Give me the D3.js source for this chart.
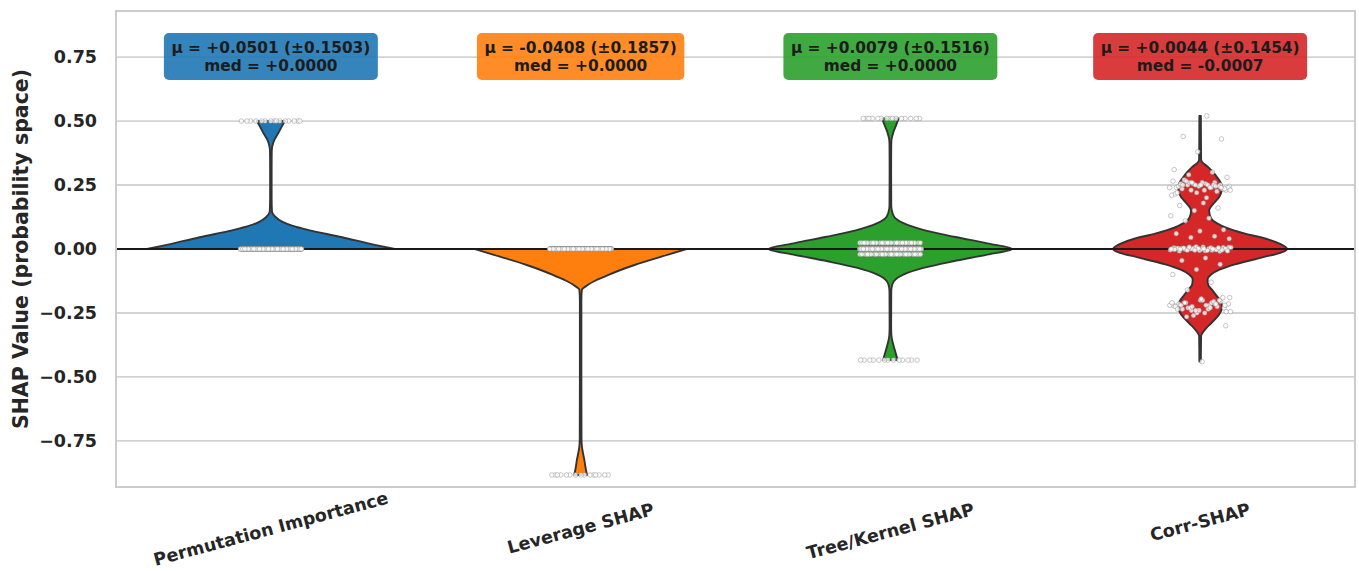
<!DOCTYPE html>
<html>
<head>
<meta charset="utf-8">
<script src="https://cdn.jsdelivr.net/npm/d3@7"></script>
<style>
  html, body { margin: 0; padding: 0; background: #ffffff; }
  svg { display: block; font-family: "DejaVu Sans", sans-serif; }
</style>
</head>
<body>
<svg id="chart" width="1359" height="571"></svg>
<script>
// Attribution methods compared on the x axis
const categories = ["Permutation Importance", "Leverage SHAP", "Tree/Kernel SHAP", "Corr-SHAP"];
const colors = ["#1f77b4", "#ff7f0e", "#2ca02c", "#d62728"];

// Summary statistics shown in the boxes above each violin
const means = [0.0501, -0.0408, 0.0079, 0.0044];
const stds = [0.1503, 0.1857, 0.1516, 0.1454];
const medians = [0.0000, 0.0000, 0.0000, -0.0007];

const yTicks = [-0.75, -0.5, -0.25, 0, 0.25, 0.5, 0.75];

// Violin outlines: [SHAP value, relative density]
const permDensity = [[0, 1.0], [0.016, 0.84], [0.046, 0.575], [0.074, 0.305], [0.09, 0.178], [0.107, 0.09],
  [0.126, 0.035], [0.146, 0.009], [0.2, 0.006], [0.3, 0.006], [0.38, 0.007], [0.4, 0.011], [0.43, 0.032],
  [0.453, 0.06], [0.48, 0.09], [0.5, 0.113]];
const levDensity = [[0, 0.855], [-0.023, 0.70], [-0.0625, 0.435], [-0.085, 0.306], [-0.108, 0.194],
  [-0.125, 0.113], [-0.14, 0.059], [-0.16, 0.01], [-0.2, 0.006], [-0.5, 0.006], [-0.74, 0.007],
  [-0.77, 0.01], [-0.8, 0.02], [-0.824, 0.03], [-0.855, 0.04], [-0.883, 0.052]];
const treeDensity = [[0.51, 0.067], [0.486, 0.048], [0.453, 0.022], [0.43, 0.01], [0.41, 0.007], [0.3, 0.006],
  [0.17, 0.007], [0.155, 0.01], [0.126, 0.03], [0.1, 0.11], [0.074, 0.272], [0.048, 0.514], [0.022, 0.782],
  [0, 0.984], [-0.022, 0.782], [-0.048, 0.508], [-0.074, 0.266], [-0.1, 0.105], [-0.126, 0.028],
  [-0.15, 0.01], [-0.17, 0.007], [-0.3, 0.006], [-0.335, 0.008], [-0.35, 0.012], [-0.38, 0.027],
  [-0.405, 0.042], [-0.434, 0.059]];
const corrDensity = [[0.52, 0.006], [0.35, 0.008], [0.34, 0.016], [0.32, 0.065], [0.3, 0.105], [0.28, 0.137],
  [0.26, 0.165], [0.24, 0.178], [0.22, 0.17], [0.2, 0.15], [0.18, 0.113], [0.16, 0.08], [0.15, 0.073],
  [0.13, 0.08], [0.11, 0.105], [0.1, 0.137], [0.085, 0.2], [0.074, 0.266], [0.06, 0.363], [0.04, 0.532],
  [0.02, 0.645], [0, 0.702], [-0.02, 0.613], [-0.03, 0.524], [-0.04, 0.444], [-0.06, 0.282], [-0.08, 0.161],
  [-0.1, 0.089], [-0.12, 0.06], [-0.14, 0.065], [-0.16, 0.097], [-0.18, 0.129], [-0.2, 0.161],
  [-0.225, 0.178], [-0.25, 0.161], [-0.27, 0.129], [-0.29, 0.089], [-0.31, 0.048], [-0.33, 0.016],
  [-0.34, 0.008], [-0.44, 0.006]];
const densities = [permDensity, levDensity, treeDensity, corrDensity];

// Individual observations (value, number of samples at that value)
const permPointValues = [0, 0.5];
const permPointCounts = [135, 15];
const levPointValues = [0, -0.883];
const levPointCounts = [310, 15];
const treePointValues = [0.51, 0.024, 0, -0.021, -0.434];
const treePointCounts = [15, 30, 200, 28, 13];
const corrPoints = [
  0.25, 0.24, 0.26, 0.23, 0.245, 0.255, 0.235, 0.25, 0.22, 0.265, 0.24, 0.25, 0.23, 0.26, 0.245, 0.225,
  0.255, 0.24, 0.25, 0.27, 0.235, 0.245, 0.215, 0.25, 0.26, 0.24, 0.23, 0.255, 0.245, 0.25, 0.21, 0.24,
  0.265, 0.235, 0.25, 0.22, 0.245, 0.26, 0.23, 0.2, 0.25, 0.24,
  0, 0.005, -0.005, 0.002, -0.003, 0.008, -0.008, 0, 0.004, -0.004, 0.001, -0.001, 0.006, -0.006, 0.003,
  -0.002, 0, 0.007, -0.007, 0.002, -0.009, 0.009, 0, 0.005, -0.005, 0.001, -0.001, 0.003, -0.003, 0,
  0.006, -0.006, 0.004, -0.004, 0.002, -0.002, 0, 0.008, -0.008, 0.001, -0.001, 0.005, -0.005, 0,
  -0.22, -0.21, -0.23, -0.2, -0.225, -0.215, -0.24, -0.19, -0.22, -0.235, -0.205, -0.25, -0.22, -0.21,
  -0.23, -0.245, -0.2, -0.215, -0.225, -0.26, -0.22, -0.235, -0.21, -0.19, -0.24, -0.225, -0.205, -0.23,
  -0.215, -0.25, -0.22, -0.2, -0.24, -0.21, -0.23, -0.265, -0.22, -0.195, -0.235, -0.215, -0.225, -0.245,
  0.52, 0.44, 0.43, 0.38, 0.31, 0.3, 0.29, 0.28, 0.18, 0.17, 0.16, 0.15, 0.13, 0.12, 0.11, 0.075, 0.07,
  0.06, 0.05, 0.045, 0.04, -0.035, -0.045, -0.06, -0.08, -0.1, -0.13, -0.16, -0.3, -0.44];

function expand(values, counts) {
  const out = [];
  values.forEach((v, i) => { for (let k = 0; k < counts[i]; k++) out.push(v); });
  return out;
}
const pointSets = [
  expand(permPointValues, permPointCounts),
  expand(levPointValues, levPointCounts),
  expand(treePointValues, treePointCounts),
  corrPoints
];

const width = 1359, height = 571;
const svg = d3.select("#chart");
const plot = { left: 116, right: 1355, top: 11, bottom: 487 };

const x = d3.scaleBand().domain(categories).range([plot.left, plot.right]).padding(0);
const y = d3.scaleLinear().domain([-0.93, 0.93]).range([plot.bottom, plot.top]);
const w = d3.scaleLinear().domain([0, 1]).range([0, x.bandwidth() * 0.4]);
const jitter = x.bandwidth() * 0.1;
const center = c => x(c) + x.bandwidth() / 2;

// horizontal grid
svg.append("g")
  .selectAll("line")
  .data(yTicks)
  .join("line")
  .attr("x1", plot.left).attr("x2", plot.right)
  .attr("y1", d => y(d)).attr("y2", d => y(d))
  .attr("stroke", "#d3d3d3").attr("stroke-width", 1.8);

// y axis labels (no tick marks)
const yAxis = d3.axisLeft(y).tickValues(yTicks).tickSize(0).tickPadding(19)
  .tickFormat(d => d3.format(".2f")(d));
svg.append("g")
  .attr("transform", `translate(${plot.left},0)`)
  .call(yAxis)
  .call(g => g.select(".domain").remove())
  .selectAll("text")
  .attr("font-family", "DejaVu Sans")
  .attr("font-size", 17.5)
  .attr("font-weight", "bold")
  .attr("fill", "#262626");

// violins
const area = d3.area()
  .y(d => y(d[0]))
  .curve(d3.curveMonotoneY);

categories.forEach((c, i) => {
  const cx = center(c);
  const prof = densities[i].slice().sort((a, b) => a[0] - b[0]);
  svg.append("path")
    .attr("d", area.x0(d => cx - w(d[1])).x1(d => cx + w(d[1]))(prof))
    .attr("fill", colors[i])
    .attr("stroke", "#333333")
    .attr("stroke-width", 1.9)
    .attr("stroke-linejoin", "round");
});

// zero reference line
svg.append("line")
  .attr("x1", plot.left).attr("x2", plot.right)
  .attr("y1", y(0)).attr("y2", y(0))
  .attr("stroke", "#1a1a1a").attr("stroke-width", 1.8);

// jittered observations
const golden = 0.6180339887;
categories.forEach((c, i) => {
  const cx = center(c);
  svg.append("g")
    .selectAll("circle")
    .data(pointSets[i])
    .join("circle")
    .attr("cx", (d, k) => cx + (((k * golden + 0.5) % 1) - 0.5) * 2 * jitter)
    .attr("cy", d => y(d))
    .attr("r", 2.3)
    .attr("fill", "#ffffff")
    .attr("fill-opacity", 0.8)
    .attr("stroke", "#8a8a8a")
    .attr("stroke-opacity", 0.8)
    .attr("stroke-width", 0.6);
});

// axes frame
svg.append("rect")
  .attr("x", plot.left).attr("y", plot.top)
  .attr("width", plot.right - plot.left).attr("height", plot.bottom - plot.top)
  .attr("fill", "none").attr("stroke", "#cccccc").attr("stroke-width", 2);

// statistics boxes
const fmt = v => (v < 0 ? "-" : "+") + Math.abs(v).toFixed(4);
categories.forEach((c, i) => {
  const cx = center(c);
  const g = svg.append("g");
  const rect = g.append("rect");
  const t1 = g.append("text")
    .attr("x", cx).attr("y", 53)
    .text(`μ = ${fmt(means[i])} (±${stds[i].toFixed(4)})`);
  const t2 = g.append("text")
    .attr("x", cx).attr("y", 71)
    .text(`med = ${fmt(medians[i])}`);
  g.selectAll("text")
    .attr("text-anchor", "middle")
    .attr("font-family", "DejaVu Sans")
    .attr("font-size", 15.4)
    .attr("font-weight", "bold")
    .attr("fill", "#1c1c1c");
  const tw = Math.max(t1.node().getComputedTextLength(), t2.node().getComputedTextLength());
  rect.attr("x", cx - tw / 2 - 7.5).attr("y", 33)
    .attr("width", tw + 15).attr("height", 47)
    .attr("rx", 5)
    .attr("fill", colors[i]).attr("fill-opacity", 0.9);
});

// rotated category labels, kept inside the canvas
const angle = 15;
const rad = angle * Math.PI / 180;
const labelSize = 17.5;
categories.forEach((c, i) => {
  const cx = center(c);
  const t = svg.append("text")
    .attr("text-anchor", "middle")
    .attr("dominant-baseline", "central")
    .attr("font-family", "DejaVu Sans")
    .attr("font-size", labelSize)
    .attr("font-weight", "bold")
    .attr("fill", "#262626")
    .text(c);
  const len = t.node().getComputedTextLength();
  const halfH = (len / 2) * Math.sin(rad) + (labelSize * 1.17 / 2) * Math.cos(rad);
  const cy = Math.min(499 + halfH, height - 1 - halfH);
  t.attr("transform", `translate(${cx},${cy}) rotate(${-angle})`);
});

// y axis title
svg.append("text")
  .attr("transform", `translate(28,${(plot.top + plot.bottom) / 2}) rotate(-90)`)
  .attr("text-anchor", "middle")
  .attr("font-family", "DejaVu Sans")
  .attr("font-size", 20.5)
  .attr("font-weight", "bold")
  .attr("fill", "#262626")
  .text("SHAP Value (probability space)");
</script>
</body>
</html>
